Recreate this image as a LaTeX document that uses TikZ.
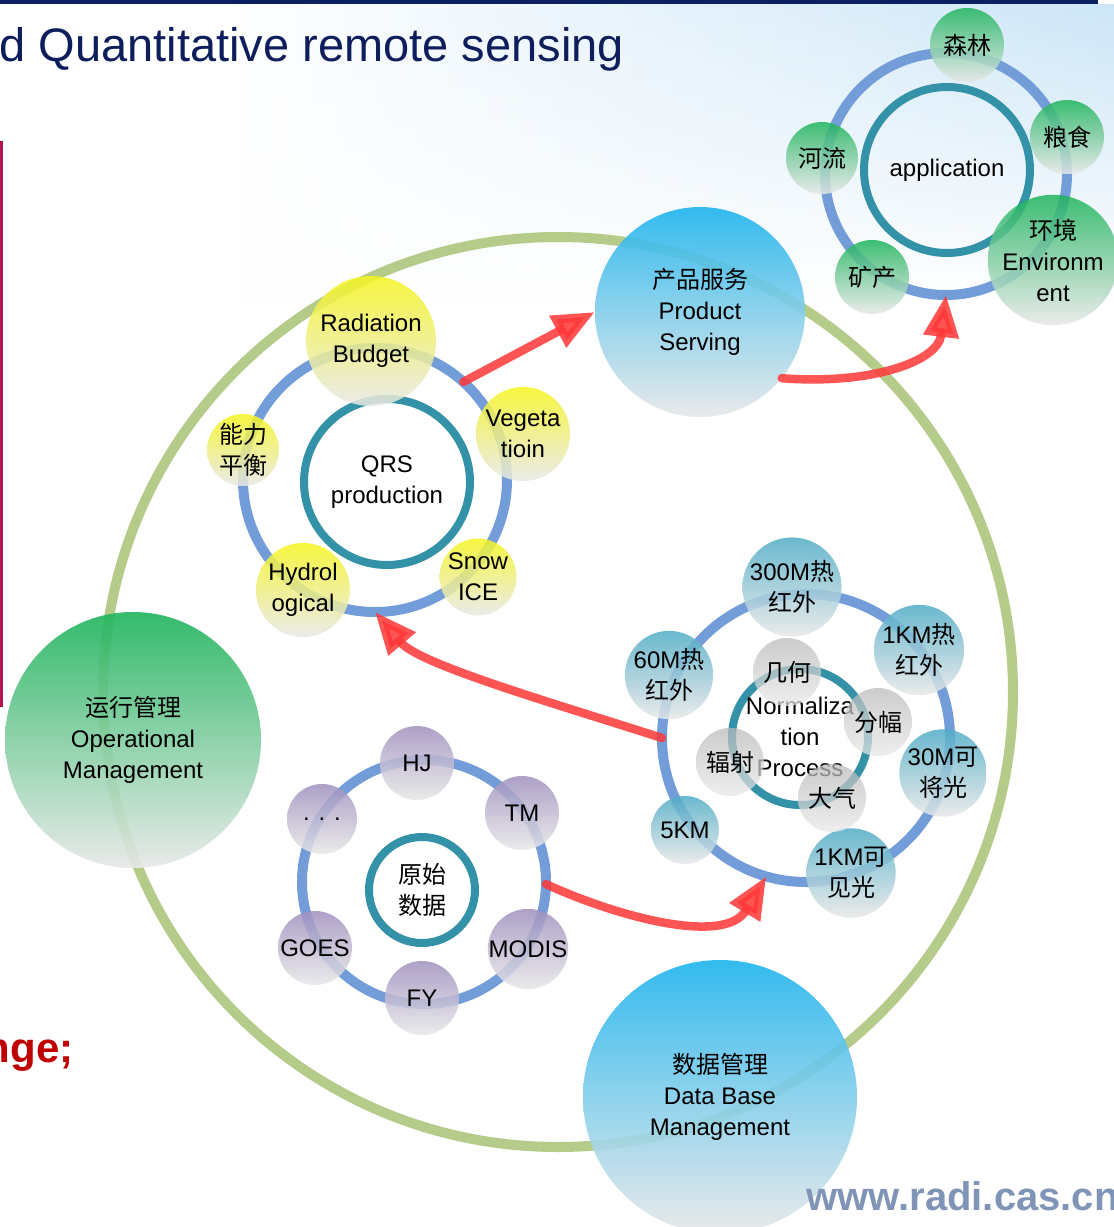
\documentclass[tikz,border=0pt]{standalone}
\usepackage{fontspec}
\setmainfont{Liberation Sans}
\newfontfamily\cjk{Noto Sans CJK SC}
\usetikzlibrary{arrows.meta,fadings}
\definecolor{cNavy}{RGB}{14,30,92}
\definecolor{cBar}{RGB}{10,32,96}
\definecolor{cSky}{RGB}{205,230,247}
\definecolor{cDRed}{RGB}{192,0,0}
\definecolor{cVLine}{RGB}{180,20,80}
\definecolor{cOuter}{RGB}{180,203,138}
\definecolor{cRing}{RGB}{114,157,217}
\definecolor{cTeal}{RGB}{52,146,168}
\definecolor{cRed}{RGB}{255,55,55}
\definecolor{cGreen}{RGB}{30,180,92}
\definecolor{cGray}{RGB}{232,232,232}
\definecolor{cYellow}{RGB}{245,245,30}
\definecolor{cTealS}{RGB}{80,172,198}
\definecolor{cGrayS}{RGB}{185,185,185}
\definecolor{cPurple}{RGB}{160,144,190}
\definecolor{cBlue}{RGB}{30,180,238}
\definecolor{cWm}{RGB}{128,148,184}
\begin{document}
\begin{tikzpicture}[x=1pt,y=-1pt,
  sat/.style={circle,inner sep=0pt,align=center,font=\fontsize{24}{31}\selectfont,fill opacity=0.85,text opacity=1,text=black},
  sgreen/.style={sat,top color=cGreen,bottom color=cGray},
  syellow/.style={sat,top color=cYellow,bottom color=cGray},
  steal/.style={sat,top color=cTealS,bottom color=cGray},
  sgray/.style={sat,top color=cGrayS,bottom color=cGray,fill opacity=0.72},
  spurple/.style={sat,top color=cPurple,bottom color=cGray},
  bigblue/.style={sat,top color=cBlue,bottom color=cGray,fill opacity=0.9},
  biggreen/.style={sat,top color=cGreen,bottom color=cGray,fill opacity=0.9},
  ring/.style={circle,draw=cRing,line width=10pt,inner sep=0pt,outer sep=0pt},
  tring/.style={circle,draw=cTeal,line width=8pt,inner sep=0pt,outer sep=0pt,align=center,font=\fontsize{24}{31}\selectfont},
  arr/.style={draw=cRed,line width=8.5pt,line cap=round,opacity=0.85,-{Triangle[length=42pt,width=34pt]}}
]
\useasboundingbox (0,0) rectangle (1114,1227);
\fill[white] (0,0) rectangle (1114,1227);
% background sky
\shade[left color=white,right color=cSky,path fading=south] (220,4) rectangle (1114,300);
\fill[cBar] (0,0) rectangle (1098,3.5);
\node[anchor=base west,text=cNavy,font=\fontsize{47}{56}\selectfont] (title) at (-4,61) {d Quantitative remote sensing};
\draw[cVLine,line width=3pt] (1.5,141) coordinate (vl1) -- (1.5,707) coordinate (vl2);
\node[anchor=base east,text=cDRed,font=\bfseries\fontsize{42}{50}\selectfont] (nge) at (77,1062) {nge;};

% outer green ring
\draw[cOuter,line width=10pt] (558,692) circle (455pt);

% ---------- application cluster
\node[ring,minimum size=242pt] (appring) at (946,174) {};
\node[tring,minimum size=166pt] (app) at (947,170) {application};
\node[sgreen,minimum size=74pt] (sl) at (967,45) {{\cjk 森林}};
\node[sgreen,minimum size=74pt] (ls) at (1067,137) {{\cjk 粮食}};
\node[sgreen,minimum size=120pt] (env) at (1053,260) {{\cjk 环境}\\Environm\\ent};
\node[sgreen,minimum size=74pt] (kc) at (872,277) {{\cjk 矿产}};
\node[sgreen,minimum size=72pt] (hl) at (822,158) {{\cjk 河流}};

% ---------- QRS cluster
\node[ring,minimum size=264pt] (qrsring) at (375,480) {};
\node[tring,minimum size=166pt] (qrs) at (387,482) {QRS\\production};
\node[syellow,minimum size=130pt] (rad) at (371,341) {Radiation\\Budget};
\node[syellow,minimum size=72pt] (nl) at (243,450) {{\cjk 能力}\\{\cjk 平衡}};
\node[syellow,minimum size=94pt] (veg) at (523,434) {Vegeta\\tioin};
\node[syellow,minimum size=74pt] (snow) at (478,577) {Snow\\ICE};
\node[syellow,minimum size=94pt] (hyd) at (303,590) {Hydrol\\ogical};

% ---------- Normalization cluster
\node[ring,minimum size=288pt] (normring) at (806,738) {};
\node[tring,minimum size=136pt] (norm) at (800,737) {Normaliza\\tion\\Process};
\node[steal,minimum size=92pt] (n300) at (792,587) {300M{\cjk 热}\\{\cjk 红外}};
\node[steal,minimum size=86pt] (n1kr) at (919,650) {1KM{\cjk 热}\\{\cjk 红外}};
\node[steal,minimum size=74pt] (n30) at (943,773) {30M{\cjk 可}\\{\cjk 将光}};
\node[steal,minimum size=74pt] (n1kv) at (851,873) {1KM{\cjk 可}\\{\cjk 见光}};
\node[steal,minimum size=68pt] (n5) at (685,830) {5KM};
\node[steal,minimum size=74pt] (n60) at (669,675) {60M{\cjk 热}\\{\cjk 红外}};
\node[sgray,minimum size=68pt] (jh) at (787,672) {{\cjk 几何}};
\node[sgray,minimum size=68pt] (ff) at (878,722) {{\cjk 分幅}};
\node[sgray,minimum size=68pt] (dq) at (832,798) {{\cjk 大气}};
\node[sgray,minimum size=68pt] (fs) at (730,762) {{\cjk 辐射}};

% ---------- raw data cluster
\node[ring,minimum size=244pt] (rawring) at (424,882) {};
\node[tring,minimum size=106pt] (raw) at (422,890) {{\cjk 原始}\\{\cjk 数据}};
\node[spurple,minimum size=74pt] (hj) at (417,763) {HJ};
\node[spurple,minimum size=74pt] (tm) at (522,813) {TM};
\node[spurple,minimum size=74pt] (modis) at (528,949) {MODIS};
\node[spurple,minimum size=74pt] (fy) at (422,998) {FY};
\node[spurple,minimum size=74pt] (goes) at (315,948) {GOES};
\node[spurple,minimum size=70pt] (dots) at (322,819) {. . .};

% ---------- big circles
\node[biggreen,minimum size=256pt] (oper) at (133,740) {{\cjk 运行管理}\\Operational\\Management};
\node[bigblue,minimum size=210pt] (prod) at (700,312) {{\cjk 产品服务}\\Product\\Serving};
\node[bigblue,minimum size=274pt] (dbm) at (720,1097) {{\cjk 数据管理}\\Data Base\\Management};

% ---------- arrows
\draw[arr] (qrsring.48) -- (prod.west);
\draw[arr] (prod.-39) .. controls (870,385) and (938,362) .. (appring.south);
\draw[arr] (normring.180) .. controls (560,705) and (420,665) .. (qrsring.south);
\draw[arr] (rawring.-1) .. controls (620,918) and (725,945) .. (normring.254);

% watermark
\node[anchor=base west,text=cWm,font=\bfseries\fontsize{40}{48}\selectfont] (wm) at (803,1210) {www.radi.cas.cn};
\end{tikzpicture}
\end{document}
